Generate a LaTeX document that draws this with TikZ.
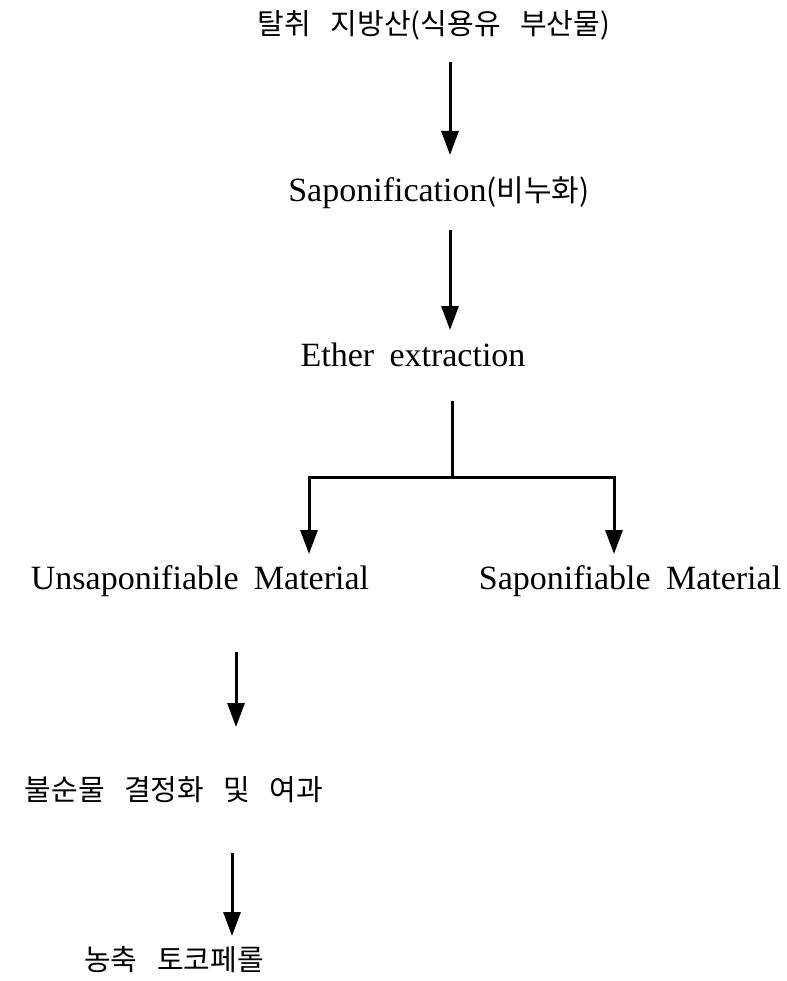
\documentclass[tikz,border=0pt]{standalone}
\usepackage{fontspec}
\setmainfont[WordSpace=1.8,Ligatures=NoCommon]{Liberation Serif}
\newfontfamily\krfont[WordSpace=3]{Noto Sans CJK KR}
\usetikzlibrary{arrows.meta}
\begin{document}
\begin{tikzpicture}[x=1pt,y=-1pt,
  lat/.style={font=\fontsize{34}{40}\selectfont, anchor=base, inner sep=0pt},
  kr/.style={font=\krfont\fontsize{29}{34}\selectfont, anchor=base, inner sep=0pt},
  flow/.style={line width=3pt, line join=miter, -{Triangle[width=17pt,length=24pt]}}]
\useasboundingbox (0,0) rectangle (786,981);

% nodes
\node[kr]  (fa)  at (434,35)  {탈취 지방산(식용유 부산물)};
\node[lat] (sap) at (439,202) {Saponification{\krfont\fontsize{30}{34}\selectfont(비누화)}};
\node[lat] (eth) at (413,366) {Ether extraction};
\node[lat] (uns) at (200,589) {Unsaponifiable Material};
\node[lat] (sm)  at (630,589) {Saponifiable Material};
\node[kr]  (cry) at (174,800) {불순물 결정화 및 여과};
\node[kr]  (toc) at (174,970) {농축 토코페롤};

% connector end points
\coordinate (a1s) at (450,62);   \coordinate (a1e) at (450,155);
\coordinate (a2s) at (450,230);  \coordinate (a2e) at (450,330);
\coordinate (b0)  at (452,401);  \coordinate (bj)  at (452,477);
\coordinate (bl)  at (309,554);  \coordinate (br)  at (614,554);
\coordinate (a3s) at (236,652);  \coordinate (a3e) at (236,727);
\coordinate (a4s) at (232,853);  \coordinate (a4e) at (232,936);

% connectors
\draw[flow] (a1s) -- (a1e);
\draw[flow] (a2s) -- (a2e);
\draw[flow] (b0) -- (bj) -| (bl);
\draw[flow] (bj) -| (br);
\draw[flow] (a3s) -- (a3e);
\draw[flow] (a4s) -- (a4e);
\end{tikzpicture}
\end{document}
